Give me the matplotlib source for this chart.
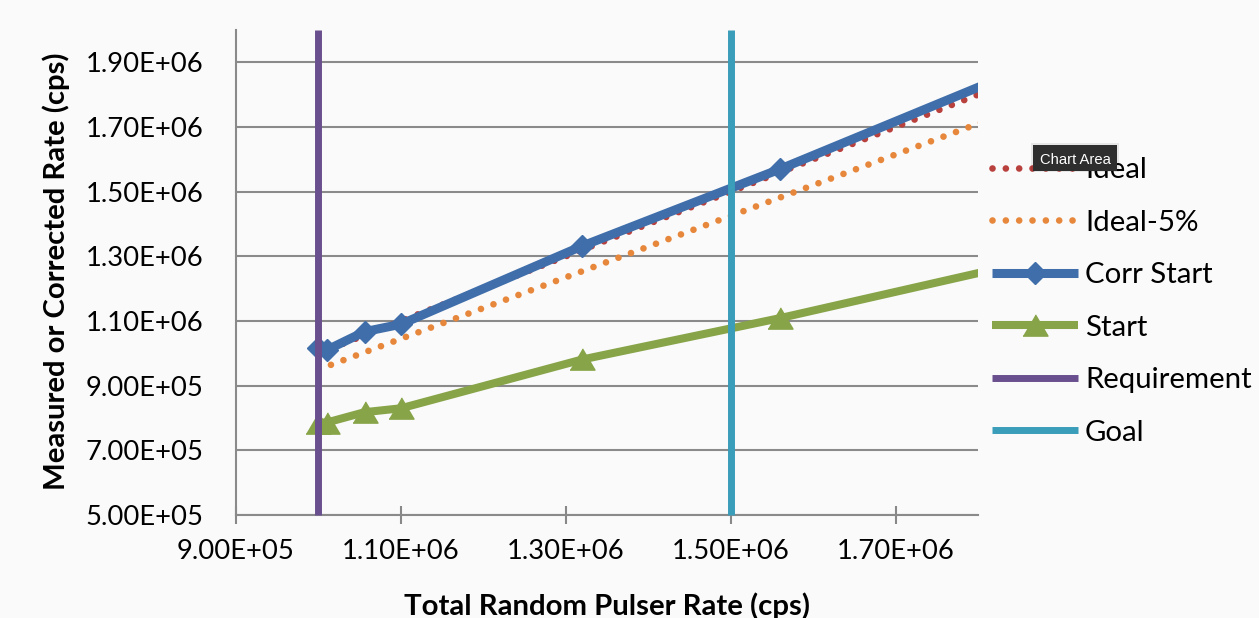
import matplotlib
matplotlib.use("Agg")
import matplotlib.pyplot as plt
from matplotlib.patches import Rectangle

# ---- data ----
pulser_rate = [1.000e6, 1.010e6, 1.056e6, 1.100e6, 1.320e6, 1.560e6, 2.000e6]
corr_start = [1.015e6, 1.010e6, 1.067e6, 1.090e6, 1.332e6, 1.570e6, 2.033e6]
start = [7.86e5, 7.86e5, 8.18e5, 8.30e5, 9.81e5, 1.109e6, 1.364e6]
ideal = list(pulser_rate)
ideal_5 = [0.95 * v for v in pulser_rate]
requirement_x = [1.0e6, 1.0e6]
goal_x = [1.5e6, 1.5e6]
vline_y = [5.0e5, 2.0e6]

x_ticks = [9.0e5, 1.1e6, 1.3e6, 1.5e6, 1.7e6]
y_ticks = [5.0e5, 7.0e5, 9.0e5, 1.1e6, 1.3e6, 1.5e6, 1.7e6, 1.9e6]

c_ideal = "#B8403D"
c_ideal5 = "#E6873B"
c_corr = "#3F6EAA"
c_start = "#87A448"
c_req = "#6A4F8E"
c_goal = "#3A9DBA"

W, H = 1259, 618
fig = plt.figure(figsize=(W / 100, H / 100), dpi=100, facecolor="#FAFAFA")
renderer = fig.canvas.get_renderer()


def fit_size(s, target_px, **kw):
    t = fig.text(0, 0, s, fontsize=10, **kw)
    w = t.get_window_extent(renderer).width
    t.remove()
    return 10 * target_px / w


def text_h(s, size, **kw):
    t = fig.text(0, 0, s, fontsize=size, **kw)
    h = t.get_window_extent(renderer).height
    t.remove()
    return h


tick_fs = fit_size("1.90E+06", 117, family="Lato")
ylab_fs = fit_size("Measured or Corrected Rate (cps)", 440, family="Lato", fontweight="bold")
xlab_fs = fit_size("Total Random Pulser Rate (cps)", 408, family="Lato", fontweight="bold")
leg_fs = fit_size("Requirement", 167, family="Lato")
tip_fs = fit_size("Chart Area", 71, family="Liberation Sans")

ax = fig.add_axes([236 / W, 1 - 515 / H, (978 - 236) / W, (515 - 30) / H])
ax.set_facecolor("none")

tri = [(-1, -0.85), (1, -0.85), (0, 0.85)]
dot = (0, (0.001, 2.0))
ax.plot(pulser_rate, ideal, color=c_ideal, lw=4.8, linestyle=dot,
        dash_capstyle="round", label="Ideal", zorder=3)
ax.plot(pulser_rate, ideal_5, color=c_ideal5, lw=4.8, linestyle=dot,
        dash_capstyle="round", label="Ideal-5%", zorder=3)
ax.plot(pulser_rate, corr_start, color=c_corr, lw=6.5, marker="D", markersize=11.5,
        label="Corr Start", zorder=4, solid_capstyle="butt")
ax.plot(pulser_rate, start, color=c_start, lw=5.8, marker=tri, markersize=18,
        label="Start", zorder=4, solid_capstyle="butt")
ax.plot(requirement_x, vline_y, color=c_req, lw=5, label="Requirement",
        zorder=5, solid_capstyle="butt", clip_on=False)
ax.plot(goal_x, vline_y, color=c_goal, lw=5, label="Goal",
        zorder=5, solid_capstyle="butt", clip_on=False)

ax.set_xlim(9.0e5, 1.8e6)
ax.set_ylim(5.0e5, 2.0e6)
ax.set_xticks(x_ticks)
ax.set_yticks(y_ticks)
ax.set_xticklabels([f"{v:.2E}" for v in x_ticks])
ax.set_yticklabels([f"{v:.2E}" for v in y_ticks])
ax.tick_params(axis="x", direction="inout", length=13, width=1.5, color="#888888",
               labelsize=tick_fs, pad=11)
ax.tick_params(axis="y", length=0, labelsize=tick_fs, pad=23.5)
for lab in ax.get_xticklabels() + ax.get_yticklabels():
    lab.set_family("Lato")

ax.yaxis.grid(True, color="#8A8A8A", lw=1.5)
ax.set_axisbelow(True)
for s in ["top", "right"]:
    ax.spines[s].set_visible(False)
for s in ["left", "bottom"]:
    ax.spines[s].set_color("#8A8A8A")
    ax.spines[s].set_linewidth(1.5)

ax.set_ylabel("Measured or Corrected Rate (cps)", fontsize=ylab_fs, fontweight="bold",
              family="Lato", ha="center", va="center")
ax.yaxis.set_label_coords((56 - 236) / 742, 0.5016)
ax.set_xlabel("Total Random Pulser Rate (cps)", fontsize=xlab_fs, fontweight="bold",
              family="Lato", va="baseline")
ax.xaxis.set_label_coords(0.5, (515 - 615) / 485)

# legend geometry (pixels -> font-size units)
leg_px = leg_fs * 100 / 72
row_h = text_h("Requirement", leg_fs, family="Lato")
labelspacing = (52.5 - row_h) / leg_px
leg = ax.legend(loc="center left", bbox_to_anchor=(991.7 / W, 1 - 301.3 / H),
                bbox_transform=fig.transFigure, frameon=False, borderaxespad=0,
                borderpad=0, handlelength=86.6 / leg_px, handletextpad=6.7 / leg_px,
                labelspacing=labelspacing, prop={"family": "Lato", "size": leg_fs})

# "Chart Area" tooltip from the screenshot (overlaps the legend as in the original)
fig.patches.append(Rectangle((1031 / W, 1 - 172 / H), 88 / W, 29 / H,
                             transform=fig.transFigure, fc="#000000", alpha=0.08,
                             ec="none", zorder=9))
fig.patches.append(Rectangle((1033.3 / W, 1 - 170.7 / H), 84 / W, 25.7 / H,
                             transform=fig.transFigure, fc="#2E2E2E", ec="none",
                             zorder=10))
fig.text(1075.3 / W, 1 - 158.2 / H, "Chart Area", color="white", fontsize=tip_fs,
         family="Liberation Sans", ha="center", va="center_baseline", zorder=11)

fig.savefig("out.png", dpi=100, facecolor=fig.get_facecolor())
